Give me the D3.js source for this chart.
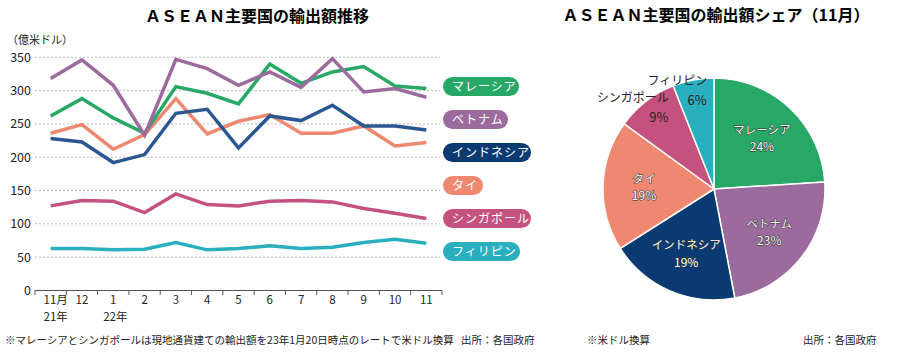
<!DOCTYPE html>
<html>
<head>
<meta charset="utf-8">
<script src="https://cdn.jsdelivr.net/npm/d3@7"></script>
<style>
body { margin: 0; background: #fff; }
svg { display: block; }
text { font-family: "Noto Sans CJK JP", "Noto Sans", sans-serif; }
.num { font-family: "Liberation Sans Narrow", "Noto Sans CJK JP", sans-serif; }
</style>
</head>
<body>
<svg id="chart" width="899" height="353"></svg>
<script>
// データ（単位：億米ドル）
var months = ["11", "12", "1", "2", "3", "4", "5", "6", "7", "8", "9", "10", "11"];
var years = {0: "21年", 2: "22年"};
var names = ["マレーシア", "ベトナム", "インドネシア", "タイ", "シンガポール", "フィリピン"];
var colors = ["#28a866", "#9b6b9d", "#0a3a72", "#ee8870", "#c5527e", "#2aafbe"];
var lineColors = ["#28a866", "#9b6b9d", "#2a5792", "#ee8870", "#c5527e", "#2aafbe"];
var malaysia  = [262, 288, 259, 236, 306, 296, 280, 340, 311, 328, 336, 307, 303];
var vietnam   = [318, 346, 308, 233, 347, 333, 308, 328, 305, 348, 298, 303, 290];
var indonesia = [228, 223, 192, 204, 266, 272, 214, 262, 255, 278, 247, 247, 241];
var thai      = [236, 249, 212, 234, 288, 235, 254, 264, 236, 236, 247, 217, 222];
var singapore = [127, 135, 134, 117, 145, 129, 127, 134, 135, 133, 123, 116, 108];
var philippines = [63, 63, 61, 62, 72, 61, 63, 67, 63, 65, 72, 77, 71];
var yTicks = [0, 50, 100, 150, 200, 250, 300, 350];
var share = [24, 23, 19, 19, 9, 6]; // 11月シェア（％）

var series = [malaysia, vietnam, indonesia, thai, singapore, philippines];
var drawOrder = [5, 4, 3, 2, 0, 1];

var svg = d3.select('#chart');

// ---- 折れ線 ----
var x = d3.scaleBand().domain(d3.range(months.length)).range([35, 442]);
var y = d3.scaleLinear().domain([0, 350]).range([290.5, 57.3]);
var cx = i => x(i) + x.bandwidth() / 2;

svg.append('text')
    .attr('x', 257).attr('y', 22)
    .attr('text-anchor', 'middle')
    .style('font-size', '16px').style('font-weight', 'bold')
    .text('ＡＳＥＡＮ主要国の輸出額推移');

svg.append('text')
    .attr('x', 7).attr('y', 44)
    .style('font-size', '11px').style('fill', '#222')
    .text('（億米ドル）');

// grid
svg.append('g')
    .selectAll('line')
    .data(yTicks.filter(d => d > 0))
    .join('line')
    .attr('x1', 35).attr('x2', 440)
    .attr('y1', d => y(d)).attr('y2', d => y(d))
    .attr('stroke', '#aaa').attr('stroke-width', 0.8)
    .attr('stroke-dasharray', '2,2');

svg.append('g')
    .selectAll('text')
    .data(yTicks)
    .join('text')
    .attr('class', 'num')
    .attr('x', 31).attr('y', d => y(d)).attr('dy', '0.35em')
    .attr('text-anchor', 'end')
    .style('font-size', '12.5px').style('fill', '#222')
    .text(d => d);

// x axis
var xa = svg.append('g');
xa.append('line')
    .attr('x1', 35).attr('x2', 442)
    .attr('y1', 290.5).attr('y2', 290.5)
    .attr('stroke', '#555').attr('stroke-width', 1);
xa.selectAll('.tk')
    .data(d3.range(months.length + 1))
    .join('line')
    .attr('class', 'tk')
    .attr('x1', d => d < months.length ? x(d) : x.range()[1])
    .attr('x2', d => d < months.length ? x(d) : x.range()[1])
    .attr('y1', 290.5).attr('y2', 295)
    .attr('stroke', '#555').attr('stroke-width', 1);
// 月と年は1つのtextに（2行）
xa.selectAll('.ml')
    .data(months)
    .join('text')
    .attr('class', 'ml num')
    .attr('y', 304)
    .attr('text-anchor', 'middle')
    .style('font-size', '11.5px').style('fill', '#222')
    .each(function(d, i) {
        var t = d3.select(this);
        var xx = cx(i) + (i == 0 ? 5 : 0);
        t.append('tspan').attr('x', xx).text(i == 0 ? d + '月' : d);
        if (years[i]) {
            t.append('tspan').attr('x', cx(i) + (i == 0 ? 5 : 2)).attr('dy', 17).text(years[i]);
        }
    });

var line = d3.line()
    .x((d, i) => cx(i))
    .y(d => y(d));

svg.append('g')
    .selectAll('path')
    .data(drawOrder)
    .join('path')
    .attr('d', k => line(series[k]))
    .attr('fill', 'none')
    .attr('stroke', k => lineColors[k])
    .attr('stroke-width', 3.5)
    .attr('stroke-linejoin', 'miter');

// legend pills
var pillW = [76, 65, 88, 40, 88, 77];
var leg = svg.append('g')
    .selectAll('g')
    .data(names)
    .join('g')
    .attr('transform', (d, i) => `translate(443, ${86.5 + i * 33})`);
leg.append('rect')
    .attr('x', 0).attr('y', -9.5)
    .attr('width', (d, i) => pillW[i]).attr('height', 19)
    .attr('rx', 9.5)
    .attr('fill', (d, i) => colors[i]);
leg.append('text')
    .attr('x', 9).attr('dy', '0.36em')
    .style('font-size', '12px').style('fill', '#fff')
    .style('letter-spacing', '1px')
    .text(d => d);

// footnote
svg.append('text')
    .attr('x', 5).attr('y', 344)
    .style('font-size', '10.5px').style('fill', '#222')
    .text('※マレーシアとシンガポールは現地通貨建ての輸出額を23年1月20日時点のレートで米ドル換算');
svg.append('text')
    .attr('x', 461).attr('y', 344)
    .style('font-size', '10.5px').style('fill', '#222')
    .text('出所：各国政府');

// ---- 円グラフ ----
svg.append('text')
    .attr('x', 716).attr('y', 21)
    .attr('text-anchor', 'middle')
    .style('font-size', '16px').style('font-weight', 'bold')
    .text('ＡＳＥＡＮ主要国の輸出額シェア（11月）');

var pieG = svg.append('g').attr('transform', 'translate(714, 189)');
var arcs = d3.pie().sort(null).value(d => d)(share);
var arc = d3.arc().innerRadius(0).outerRadius(111);

pieG.selectAll('path')
    .data(arcs)
    .join('path')
    .attr('d', arc)
    .attr('fill', (d, i) => colors[i])
    .attr('stroke', '#fff').attr('stroke-width', 1.5);

var inner = d3.arc().innerRadius(70).outerRadius(70);
var outer = d3.arc().innerRadius(90).outerRadius(90);

pieG.selectAll('.lb')
    .data(arcs)
    .join('g')
    .attr('class', 'lb')
    .each(function(d, i) {
        var g = d3.select(this);
        var small = d.data < 10;
        var p = small ? outer.centroid(d) : inner.centroid(d);
        if (small) {
            g.append('text')
                .attr('x', p[0] + 10).attr('y', p[1] - 20).attr('dy', '0.35em')
                .attr('text-anchor', 'end')
                .style('font-size', '12px').style('fill', '#222')
                .text(names[i]);
            g.append('text')
                .attr('class', 'num')
                .attr('x', p[0]).attr('y', p[1]).attr('dy', '0.35em')
                .attr('text-anchor', 'middle')
                .style('font-size', '13px').style('fill', '#222')
                .text(d.data + '%');
        } else {
            var t = g.append('text')
                .attr('y', p[1] - 4)
                .attr('text-anchor', 'middle')
                .style('fill', '#fff')
                .style('stroke', '#333').style('stroke-width', 1)
                .style('paint-order', 'stroke');
            t.append('tspan')
                .attr('x', p[0])
                .style('font-size', '11.5px')
                .text(names[i]);
            t.append('tspan')
                .attr('class', 'num')
                .attr('x', p[0]).attr('dy', 17.5)
                .style('font-size', '12px')
                .text(d.data + '%');
        }
    });

svg.append('text')
    .attr('x', 587).attr('y', 344)
    .style('font-size', '10.5px').style('fill', '#222')
    .text('※米ドル換算');
svg.append('text')
    .attr('x', 803).attr('y', 344)
    .style('font-size', '10.5px').style('fill', '#222')
    .text('出所：各国政府');
</script>
</body>
</html>
